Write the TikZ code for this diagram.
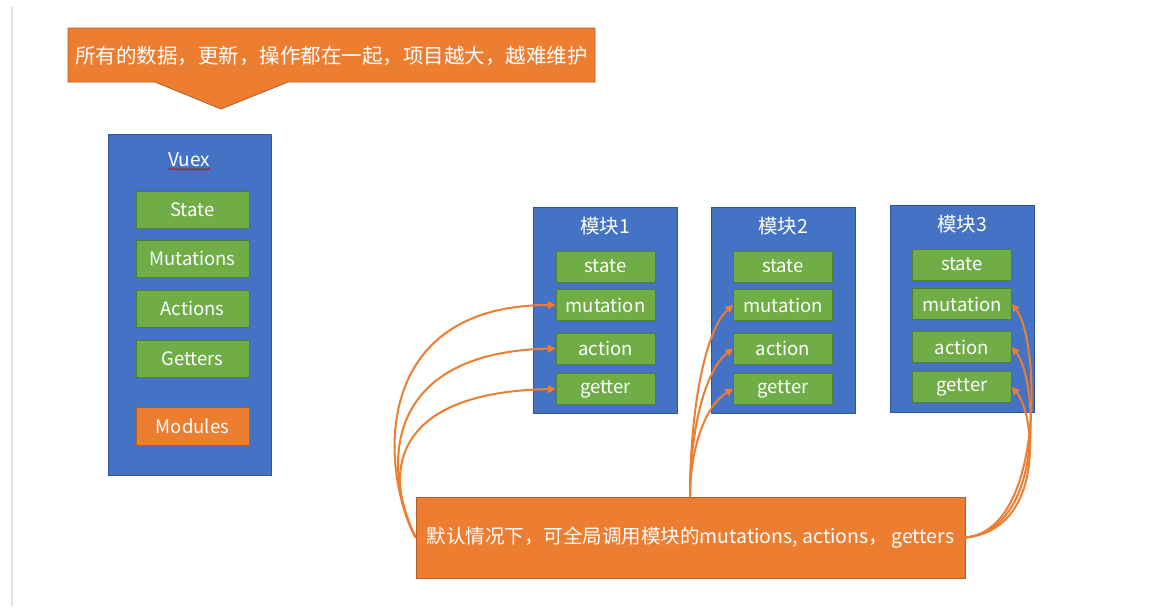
\documentclass[tikz,border=0pt]{standalone}
\usepackage{fontspec}
\setmainfont{Noto Sans CJK SC}
\usetikzlibrary{arrows.meta,decorations.pathmorphing}
\definecolor{vblue}{HTML}{4472C4}
\definecolor{vblueb}{HTML}{2F5597}
\definecolor{vgreen}{HTML}{70AD47}
\definecolor{vgreenb}{HTML}{507E32}
\definecolor{vorange}{HTML}{ED7D31}
\definecolor{vorangeb}{HTML}{B55D22}
\definecolor{vgrey}{HTML}{E2E2E2}
\tikzset{
  bluebox/.style={draw=vblueb, fill=vblue, line width=0.8pt, inner sep=0pt},
  greenbox/.style={draw=vgreenb, fill=vgreen, line width=0.8pt, text=white, inner sep=0pt,
     font=\fontsize{18.5pt}{22pt}\selectfont},
  orangebox/.style={draw=vorangeb, fill=vorange, line width=0.8pt, text=white, inner sep=0pt,
     font=\fontsize{19.5pt}{23pt}\selectfont},
  titletext/.style={text=white, font=\fontsize{19.5pt}{23pt}\selectfont, inner sep=0pt},
  vg/.style={greenbox, minimum width=113pt, minimum height=37pt},
  mg/.style={greenbox, minimum width=99pt, minimum height=31pt},
  mb/.style={bluebox, minimum width=144pt, minimum height=206pt},
  arr/.style={draw=vorange, line width=2pt, -{Triangle[length=7.5pt,width=7.5pt]}}
}
\begin{document}
\begin{tikzpicture}[x=1pt,y=-1pt]
\useasboundingbox (0,0) rectangle (1176,613);
\fill[white] (0,0) rectangle (1176,613);
\draw[vgrey, line width=2pt] (11.5,7) -- (11.5,606);

% top callout
\draw[vorangeb, fill=vorange, line width=0.8pt]
  (68,28) -- (595,28) -- (595,82) -- (288,82) -- (221,109) -- (155,82) -- (68,82) -- cycle;
\node[titletext, font=\fontsize{20.5pt}{24pt}\selectfont] (callout) at (331.5,56) {所有的数据，更新，操作都在一起，项目越大，越难维护};

% Vuex store
\node[bluebox, minimum width=163pt, minimum height=341pt] (vuex) at (189.5,304.5) {};
\node[titletext, font=\fontsize{19pt}{22pt}\selectfont] (vuext) at (189.5,160) {Vuex};
\draw[red!85!black, line width=0.6pt, decorate, decoration={snake, segment length=3pt, amplitude=0.9pt}]
  ([yshift=-2pt]vuext.south west) -- ([yshift=-2pt]vuext.south east);
\node[vg] (vstate) at (192.5,209.5) {State};
\node[vg] (vmut) at (192.5,258.5) {Mutations};
\node[vg] (vact) at (192.5,308.5) {Actions};
\node[vg] (vget) at (192.5,358.5) {Getters};
\node[orangebox, minimum width=113pt, minimum height=38pt, font=\fontsize{18.5pt}{22pt}\selectfont] (vmod) at (192.5,426) {Modules};

% module 1
\node[mb] (m1) at (605,310) {};
\node[titletext] (m1t) at (605,226) {模块1};
\node[mg] (m1s) at (605.5,266.5) {state};
\node[mg] (m1m) at (605.5,305) {mutation};
\node[mg] (m1a) at (605.5,348.5) {action};
\node[mg] (m1g) at (605.5,389) {getter};

% module 2
\node[mb] (m2) at (783,310) {};
\node[titletext] (m2t) at (783,226) {模块2};
\node[mg] (m2s) at (783,266.5) {state};
\node[mg] (m2m) at (783,305) {mutation};
\node[mg] (m2a) at (783,348.5) {action};
\node[mg] (m2g) at (783,389) {getter};

% module 3
\node[bluebox, minimum width=144pt, minimum height=207pt] (m3) at (962,308.5) {};
\node[titletext] (m3t) at (962,224) {模块3};
\node[mg] (m3s) at (962,264.5) {state};
\node[mg] (m3m) at (962,304) {mutation};
\node[mg] (m3a) at (962,347) {action};
\node[mg] (m3g) at (962,387) {getter};

% bottom note
\node[orangebox, minimum width=549pt, minimum height=81pt] (note) at (690.5,537.5)
  {默认情况下，可全局调用模块的mutations, actions，\,getters};
\coordinate (ntop) at (690,497);

% connectors to module 1
\draw[arr] (note.west) .. controls (380,470) and (370,305) .. (m1m.west);
\draw[arr] (note.west) .. controls (383,470) and (380,352) .. (m1a.west);
\draw[arr] (note.west) .. controls (385,480) and (385,392) .. (m1g.west);

% connectors to module 2
\draw[arr] (ntop) .. controls (690,410) and (705,330) .. (m2m.west);
\draw[arr] (ntop) .. controls (690,430) and (705,370) .. (m2a.west);
\draw[arr] (ntop) .. controls (690,450) and (705,405) .. (m2g.west);

% connectors to module 3
\draw[arr] (note.east) .. controls (1045,530) and (1040,340) .. (m3m.east);
\draw[arr] (note.east) .. controls (1045,530) and (1038,380) .. (m3a.east);
\draw[arr] (note.east) .. controls (1045,530) and (1036,415) .. (m3g.east);
\end{tikzpicture}
\end{document}
